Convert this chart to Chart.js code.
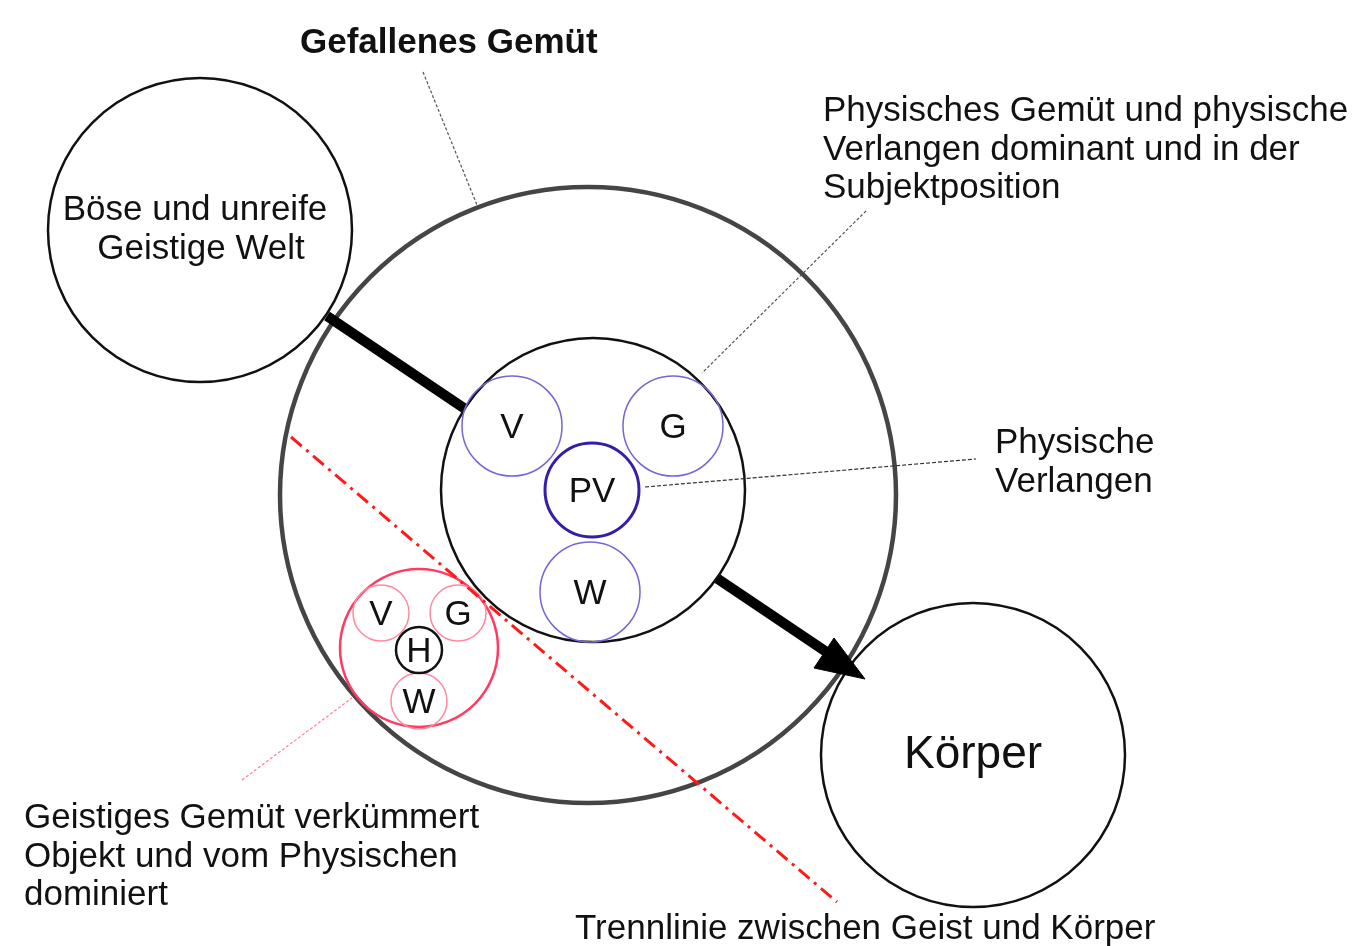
<!DOCTYPE html>
<html lang="de">
<head>
<meta charset="UTF-8">
<title>Gefallenes Gemüt</title>
<script src="https://cdn.jsdelivr.net/npm/chart.js"></script>
<style>
  html, body { margin: 0; padding: 0; background: #fff; }
  canvas { display: block; }
</style>
</head>
<body>
<canvas id="diagram" width="1368" height="946"></canvas>
<script>
// circles of the diagram (centre x, centre y, radius in px)
const circleNames  = ['gemuet', 'boese', 'physisch', 'V', 'G', 'PV', 'W', 'koerper', 'geistig', 'v', 'g', 'H', 'w'];
const circleX      = [588, 200, 593, 512, 673, 592, 590, 973, 419, 381, 458, 419, 419];
const circleY      = [495, 230, 490, 426, 426, 490, 592, 755, 648, 613, 613, 650, 701];
const circleR      = [308, 152, 152, 50, 50, 47, 50, 152, 79, 28, 28, 23, 28];
const circleLetter = ['', '', '', 'V', 'G', 'PV', 'W', '', '', 'V', 'G', 'H', 'W'];

// arrow from the evil spirit world to the body
const arrowShaft = [[327, 316], [828, 653]];
const arrowHead  = [[865, 679], [834, 638], [814, 668], [865, 679]];

// dash-dot line between spirit and body
const dividerLine = [[291, 437], [837, 902]];

// thin pointer lines from the labels
const leaderLines = [
  [[423, 72], [477, 205]],
  [[866, 211], [702, 373]],
  [[645, 487], [976, 459]],
  [[242, 780], [352, 698]]
];

// captions
const captionText = [
  ['Gefallenes Gemüt'],
  ['Physisches Gemüt und physische', 'Verlangen dominant und in der', 'Subjektposition'],
  ['Böse und unreife', 'Geistige Welt'],
  ['Physische', 'Verlangen'],
  ['Körper'],
  ['Geistiges Gemüt verkümmert', 'Objekt und vom Physischen', 'dominiert'],
  ['Trennlinie zwischen Geist und Körper']
];

// ---- styling / layout (not data) ----
const FONT = '"Liberation Sans", Arial, sans-serif';
const TEXT_COLOR = '#111';
const PURPLE = '#7466d6';

const circleStyle = {
  gemuet:   { color: '#454545', width: 4.5, fill: 'rgba(0,0,0,0)', layer: 0 },
  koerper:  { color: '#111', width: 2.5, fill: '#fff', layer: 1 },
  boese:    { color: '#111', width: 2.5, fill: '#fff', layer: 3 },
  physisch: { color: '#111', width: 2.5, fill: '#fff', layer: 3 },
  V:        { color: PURPLE, width: 1.5, fill: 'rgba(0,0,0,0)', layer: 4 },
  G:        { color: PURPLE, width: 1.5, fill: 'rgba(0,0,0,0)', layer: 4 },
  W:        { color: PURPLE, width: 1.5, fill: 'rgba(0,0,0,0)', layer: 4 },
  PV:       { color: '#3320a8', width: 3, fill: '#fff', layer: 5 },
  geistig:  { color: '#ff3b62', width: 2.5, fill: 'rgba(0,0,0,0)', layer: 4 },
  v:        { color: '#ff8aa0', width: 1.5, fill: 'rgba(0,0,0,0)', layer: 5 },
  g:        { color: '#ff8aa0', width: 1.5, fill: 'rgba(0,0,0,0)', layer: 5 },
  w:        { color: '#ff8aa0', width: 1.5, fill: 'rgba(0,0,0,0)', layer: 5 },
  H:        { color: '#111', width: 2.5, fill: '#fff', layer: 6 }
};

const captionLayout = [
  { x: 300, y: [53], align: 'left', size: 35, bold: true },
  { x: 823, y: [121, 160, 198], align: 'left', size: 35 },
  { x: [195, 201], y: [220, 259], align: 'center', size: 35 },
  { x: 995, y: [453, 492], align: 'left', size: 35 },
  { x: 973, y: [768], align: 'center', size: 46 },
  { x: 24, y: [828, 867, 905], align: 'left', size: 35 },
  { x: 575, y: [939], align: 'left', size: 35 }
];
const leaderStyle = [
  { color: '#555', dash: [3, 2] },
  { color: '#555', dash: [3, 2] },
  { color: '#333', dash: [4, 2] },
  { color: '#ff8097', dash: [3, 2] }
];

const pts = arr => arr.map(p => ({ x: p[0], y: p[1] }));

// build the datasets, bottom layer first
const layers = [];
circleNames.forEach((name, i) => {
  const s = circleStyle[name];
  layers.push({
    layer: s.layer,
    ds: {
      type: 'bubble',
      label: name,
      data: [{ x: circleX[i], y: circleY[i], r: circleR[i] }],
      backgroundColor: s.fill,
      borderColor: s.color,
      borderWidth: s.width,
      hoverRadius: 0,
      hoverBorderWidth: s.width
    }
  });
});
layers.push({
  layer: 2,
  ds: {
    type: 'line', label: 'shaft', data: pts(arrowShaft),
    borderColor: '#000', borderWidth: 10, borderCapStyle: 'butt',
    pointRadius: 0, fill: false, tension: 0
  }
});
layers.push({
  layer: 2,
  ds: {
    type: 'line', label: 'head', data: pts(arrowHead),
    borderColor: '#000', borderWidth: 1, backgroundColor: '#000',
    borderJoinStyle: 'miter', pointRadius: 0, fill: 'shape', tension: 0
  }
});
layers.push({
  layer: 7,
  ds: {
    type: 'line', label: 'divider', data: pts(dividerLine),
    borderColor: '#ff1a1a', borderWidth: 3, borderDash: [14, 6, 3, 6],
    pointRadius: 0, fill: false, tension: 0
  }
});
leaderLines.forEach((seg, i) => {
  layers.push({
    layer: 8,
    ds: {
      type: 'line', label: 'leader' + i, data: pts(seg),
      borderColor: leaderStyle[i].color, borderWidth: 1.2, borderDash: leaderStyle[i].dash,
      pointRadius: 0, fill: false, tension: 0
    }
  });
});

layers.sort((a, b) => a.layer - b.layer);
const datasets = layers.map((l, i) => Object.assign(l.ds, { order: layers.length - i }));

const textPlugin = {
  id: 'diagramText',
  afterDatasetsDraw(chart) {
    const ctx = chart.ctx;
    const sx = chart.scales.x, sy = chart.scales.y;
    ctx.save();
    ctx.fillStyle = TEXT_COLOR;
    ctx.textBaseline = 'alphabetic';

    // letters inside the small circles
    ctx.font = '35px ' + FONT;
    ctx.textAlign = 'center';
    circleLetter.forEach((t, i) => {
      if (!t) return;
      ctx.fillText(t, sx.getPixelForValue(circleX[i]), sy.getPixelForValue(circleY[i]) + 12);
    });

    captionText.forEach((lines, i) => {
      const L = captionLayout[i];
      ctx.font = (L.bold ? 'bold ' : '') + L.size + 'px ' + FONT;
      ctx.textAlign = L.align;
      lines.forEach((t, j) => {
        const x = Array.isArray(L.x) ? L.x[j] : L.x;
        ctx.fillText(t, sx.getPixelForValue(x), sy.getPixelForValue(L.y[j]));
      });
    });
    ctx.restore();
  }
};

new Chart(document.getElementById('diagram').getContext('2d'), {
  type: 'bubble',
  data: { datasets: datasets },
  options: {
    responsive: false,
    animation: false,
    events: [],
    // no auto padding, so data units map 1:1 to canvas pixels
    layout: { padding: 0, autoPadding: false },
    scales: {
      x: { type: 'linear', min: 0, max: 1368, display: false },
      y: { type: 'linear', min: 0, max: 946, reverse: true, display: false }
    },
    plugins: {
      legend: { display: false },
      tooltip: { enabled: false }
    }
  },
  plugins: [textPlugin]
});
</script>
</body>
</html>
